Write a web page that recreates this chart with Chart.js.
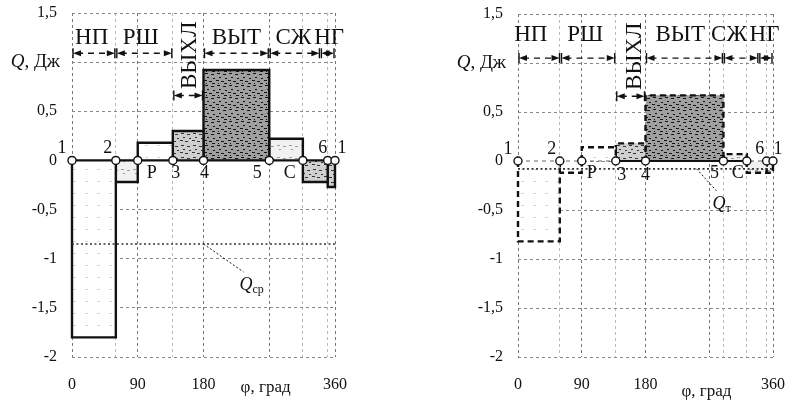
<!DOCTYPE html>
<html><head><meta charset="utf-8">
<script src="https://cdn.jsdelivr.net/npm/chart.js@4.4.1/dist/chart.umd.min.js"></script>
<style>
html,body{margin:0;padding:0;background:#fff;}
#wrap{position:relative;width:804px;height:403px;}
canvas{position:absolute;top:0;}
#cL{left:0;} #cR{left:400px;}
</style></head>
<body><div id="wrap"><canvas id="cL" width="400" height="403"></canvas><canvas id="cR" width="404" height="403"></canvas></div>
<script>
// ---- data ----
const phiLabels = [0, 90, 180, 360];
const phiGrid = [0, 90, 180, 270, 360];
const qTicks = [-2, -1.5, -1, -0.5, 0, 0.5, 1, 1.5];

const leftEdges = [0, 60, 90, 138, 180, 270, 316, 350, 360];
const leftQ = [-1.8, -0.22, 0.18, 0.3, 0.92, 0.22, -0.22, -0.27];
const leftPointNames = ['1', '2', 'P', '3', '4', '5', 'C', '6', '1'];
const leftQsr = -0.85;

const rightEdges = [0, 59, 90, 138, 180, 290, 323, 351, 360];
const rightQ = [-0.82, -0.12, 0.14, 0.18, 0.67, 0.07, -0.12, -0.12];
const rightPointNames = ['1', '2', 'P', '3', '4', '5', 'C', '6', '1'];
const rightQt = -0.08;

const sectionNames = ['НП', 'РШ', 'ВЫХЛ', 'ВЫТ', 'СЖ', 'НГ'];
const leftSectionBounds = [0, 60, 138, 180, 270, 340, 360];
const rightSectionBounds = [0, 60, 138, 180, 290, 340, 360];

// ---- styles ----
const SERIF = '"Liberation Serif", "Times New Roman", Tinos, "DejaVu Serif", serif';
function makePattern(level) {
  const c = document.createElement('canvas'); c.width = 12; c.height = 12;
  const g = c.getContext('2d');
  const bg = ['#ffffff', '#f1f1f1', '#d0d0d0', '#a0a0a0'][level];
  g.fillStyle = bg; g.fillRect(0, 0, 12, 12);
  const ink = ['#d5d5d5', '#9a9a9a', '#333333', '#111111'][level];
  g.fillStyle = ink;
  const marks = [[1,1,3,1],[7,2,3,1],[3,5,2,1],[9,6,2,1],[0,8,3,1],[5,9,3,1],[8,11,3,1],[2,11,1,1]];
  const n = [1, 3, 6, 8][level];
  for (let i = 0; i < n; i++) { const m = marks[i]; g.fillRect(m[0], m[1], m[2], m[3]); }
  return g.createPattern(c, 'repeat');
}
const leftShade = [0, 1, 0, 2, 3, 1, 2, 2];
const rightShade = [0, 0, 0, 2, 3, 1, 1, 1];

function fmt(v) { return String(v).replace('.', ','); }

function buildPanel(canvasId, edges, values, shades, dashedBars, refValue, pointNames, bounds, geo) {
  const datasets = [];
  datasets.push({
    type: 'scatter', data: edges.map(e => ({ x: e, y: 0 })), showLine: false,
    pointRadius: 4, pointBackgroundColor: '#fff', pointBorderColor: '#111', pointBorderWidth: 1.4, clip: false
  });
  if (!dashedBars) {
    datasets.push({ type: 'line', data: [{ x: 0, y: 0 }, { x: 360, y: 0 }], borderColor: '#111', borderWidth: 2.2, pointRadius: 0, fill: false, clip: false });
  } else {
    datasets.push({ type: 'line', data: [{ x: edges[3], y: 0 }, { x: edges[6], y: 0 }], borderColor: '#111', borderWidth: 2.2, pointRadius: 0, fill: false, clip: false });
    datasets.push({ type: 'line', data: [{ x: 0, y: 0 }, { x: 360, y: 0 }], borderColor: '#666', borderWidth: 1.2, borderDash: [4, 4], pointRadius: 0, fill: false, clip: false });
  }
  datasets.push({ type: 'line', data: [{ x: 0, y: refValue }, { x: 360, y: refValue }], borderColor: '#333', borderWidth: 1.6, borderDash: [2, 2.5], pointRadius: 0, fill: false, clip: false });
  for (let i = 0; i < values.length; i++) {
    datasets.push({
      type: 'line',
      data: [{ x: edges[i], y: 0 }, { x: edges[i], y: values[i] }, { x: edges[i + 1], y: values[i] }, { x: edges[i + 1], y: 0 }],
      fill: 'origin', backgroundColor: makePattern(shades[i]),
      borderColor: '#111', borderWidth: 2.4,
      borderDash: dashedBars ? [6, 4] : [], pointRadius: 0, tension: 0, clip: false
    });
  }

  const pointOffsets = geo.pointOffsets;
  function arrow(ctx, x1, x2, y) {
    ctx.save();
    ctx.lineWidth = 1.4; ctx.setLineDash([6, 5]);
    ctx.beginPath(); ctx.moveTo(x1 + 4, y); ctx.lineTo(x2 - 4, y); ctx.stroke();
    ctx.setLineDash([]);
    ctx.beginPath(); ctx.moveTo(x1, y); ctx.lineTo(x1 + 8, y - 3); ctx.lineTo(x1 + 8, y + 3); ctx.closePath(); ctx.fill();
    ctx.beginPath(); ctx.moveTo(x2, y); ctx.lineTo(x2 - 8, y - 3); ctx.lineTo(x2 - 8, y + 3); ctx.closePath(); ctx.fill();
    ctx.beginPath(); ctx.moveTo(x1, y - 5); ctx.lineTo(x1, y + 5); ctx.moveTo(x2, y - 5); ctx.lineTo(x2, y + 5); ctx.stroke();
    ctx.restore();
  }
  const annot = {
    id: 'annot',
    afterDatasetsDraw(chart) {
      const ctx = chart.ctx, xs = chart.scales.x, ys = chart.scales.y;
      ctx.save();
      ctx.fillStyle = '#111'; ctx.strokeStyle = '#111';
      ctx.font = '18px ' + SERIF; ctx.textAlign = 'center'; ctx.textBaseline = 'middle';
      edges.forEach((e, i) => {
        const o = pointOffsets[i];
        ctx.fillText(pointNames[i], xs.getPixelForValue(e) + o[0], ys.getPixelForValue(0) + o[1]);
      });
      ctx.font = '23px ' + SERIF;
      const ty = ys.getPixelForValue(geo.sectionY);
      sectionNames.forEach((s, i) => {
        if (i === 2) return;
        ctx.fillText(s, xs.getPixelForValue(geo.sectionX[i]), ty);
      });
      ctx.save();
      ctx.translate(xs.getPixelForValue(geo.sectionX[2]), ys.getPixelForValue(geo.vertY));
      ctx.rotate(-Math.PI / 2);
      ctx.fillText(sectionNames[2], 0, 0);
      ctx.restore();
      const ay = ys.getPixelForValue(geo.arrowY), ay2 = ys.getPixelForValue(geo.arrowY2);
      for (let i = 0; i < sectionNames.length; i++) {
        const y = i === 2 ? ay2 : ay;
        arrow(ctx, xs.getPixelForValue(bounds[i]) + 1, xs.getPixelForValue(bounds[i + 1]) - 1, y);
      }
      const lx = xs.getPixelForValue(geo.refLeader[0]), ly = ys.getPixelForValue(refValue);
      ctx.lineWidth = 1; ctx.setLineDash([2, 2]);
      ctx.beginPath(); ctx.moveTo(lx, ly); ctx.lineTo(lx + geo.refLeader[1], ly + geo.refLeader[2]); ctx.stroke();
      ctx.setLineDash([]);
      const qx = lx + geo.refLeader[1] + 2, qy = ly + geo.refLeader[2] + 13;
      ctx.font = 'italic 18px ' + SERIF; ctx.textAlign = 'left';
      ctx.fillText('Q', qx - 6, qy);
      ctx.font = '12px ' + SERIF;
      ctx.fillText(geo.refSub, qx + 7, qy + 5);
      const yt = ys.getPixelForValue(1);
      ctx.textAlign = 'right';
      ctx.font = '19px ' + SERIF;
      const rest = ', Дж';
      const rw = ctx.measureText(rest).width;
      const rx = xs.left - 12;
      ctx.fillText(rest, rx, yt);
      ctx.font = 'italic 19px ' + SERIF;
      ctx.fillText('Q', rx - rw, yt);
      ctx.textAlign = 'center'; ctx.font = '17px ' + SERIF;
      ctx.fillText('φ, град', xs.getPixelForValue(geo.xTitleX), geo.xTitleY);
      ctx.restore();
    }
  };

  const gridXs = Array.from(new Set(phiGrid.concat(edges))).sort((a, b) => a - b);
  return new Chart(document.getElementById(canvasId), {
    type: 'line',
    data: { datasets },
    plugins: [annot],
    options: {
      responsive: false, animation: false, events: [],
      layout: { autoPadding: false, padding: { left: 0, right: geo.padRight, top: geo.padTop, bottom: 0 } },
      plugins: { legend: { display: false }, tooltip: { enabled: false } },
      scales: {
        x: {
          type: 'linear', min: 0, max: 360,
          afterBuildTicks: s => { s.ticks = gridXs.map(v => ({ value: v })); },
          afterFit: s => { s.height = 403 - geo.bottom; s.paddingLeft = 0; s.paddingRight = 0; },
          grid: {
            drawTicks: false,
            color: c => phiGrid.includes(c.tick.value) ? '#777' : '#bbb',
            lineWidth: 1
          },
          border: { display: false, dash: [3, 3] },
          ticks: {
            padding: 18, autoSkip: false, maxRotation: 0, color: '#111',
            font: { family: SERIF, size: 16 },
            callback: v => phiLabels.includes(v) ? String(v) : ''
          }
        },
        y: {
          type: 'linear', min: -2, max: 1.5,
          afterBuildTicks: s => { s.ticks = qTicks.map(v => ({ value: v })); },
          afterFit: s => { s.width = geo.left; s.paddingTop = 0; s.paddingBottom = 0; },
          grid: { drawTicks: false, color: '#888', lineWidth: 1 },
          border: { display: false, dash: [3, 3] },
          ticks: {
            padding: 15, color: '#111', font: { family: SERIF, size: 16 },
            callback: v => v === 1 ? '' : fmt(v)
          }
        }
      }
    }
  });
}

buildPanel('cL', leftEdges, leftQ, leftShade, false, leftQsr, leftPointNames, leftSectionBounds, {
  left: 72, padRight: 65, padTop: 13, bottom: 357,
  pointOffsets: [[-10, -12], [-8, -12], [14, 13], [3, 13], [1, 13], [-12, 13], [-13, 13], [-5, -12], [7, -12]],
  sectionY: 1.245, sectionX: [27, 94, 161, 225, 303, 352], vertY: 1.07, arrowY: 1.09, arrowY2: 0.66,
  refLeader: [180, 40, 28], refSub: 'ср', xTitleX: 265, xTitleY: 388
});
buildPanel('cR', rightEdges, rightQ, rightShade, true, rightQt, rightPointNames, rightSectionBounds, {
  left: 118, padRight: 31, padTop: 14, bottom: 357,
  pointOffsets: [[-10, -12], [-8, -12], [10, 12], [6, 14], [0, 14], [-9, 12], [-9, 12], [-7, -12], [5, -12]],
  sectionY: 1.29, sectionX: [18, 95, 165, 229, 298, 348], vertY: 1.07, arrowY: 1.05, arrowY2: 0.66,
  refLeader: [252, 20, 22], refSub: 'т', xTitleX: 266, xTitleY: 392
});
</script>
</body></html>
